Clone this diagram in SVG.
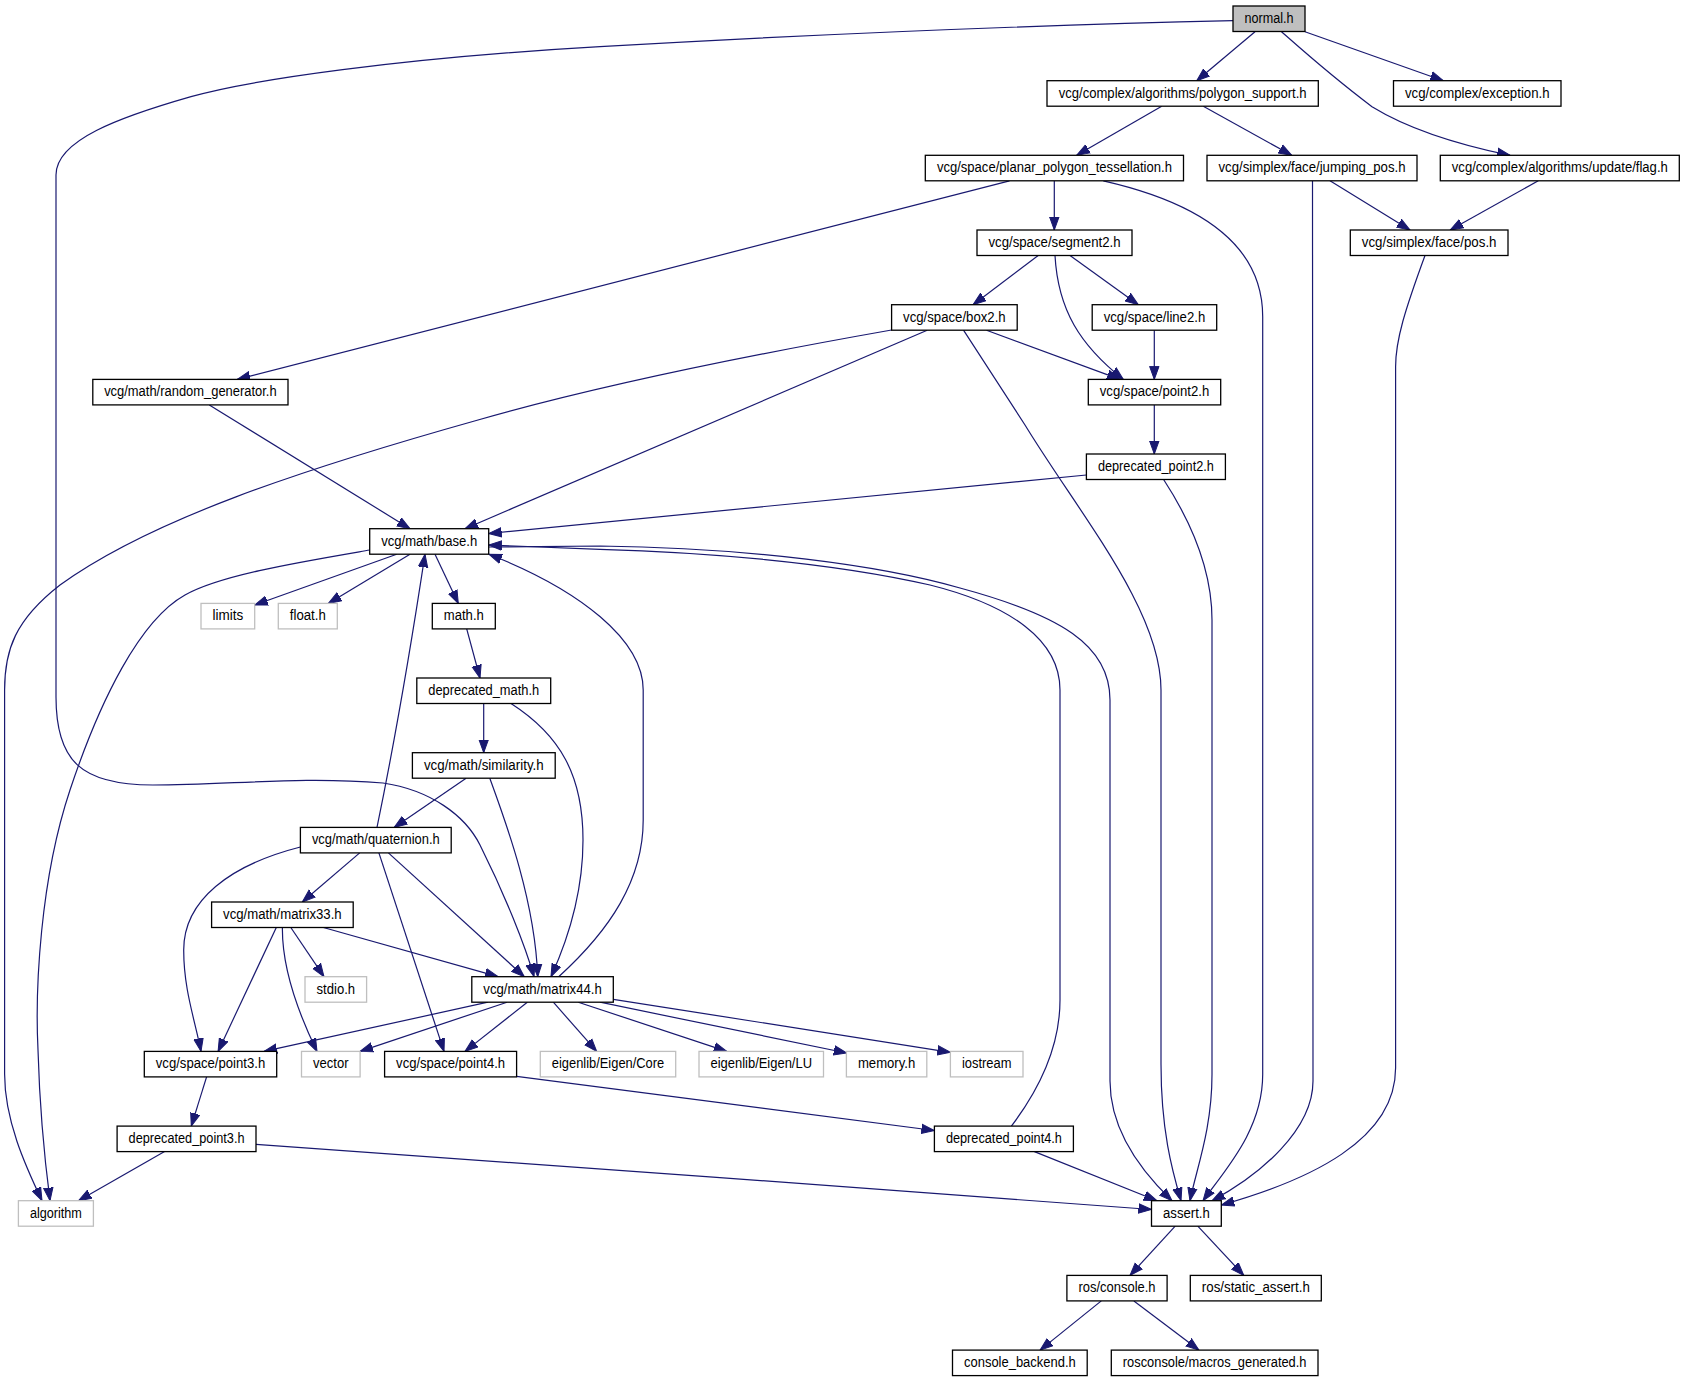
<svg xmlns="http://www.w3.org/2000/svg" width="1685" height="1381" viewBox="0 0 1685 1381">
<style>
.n{fill:#fff;stroke:#000;stroke-width:1.3}
.g{fill:#fff;stroke:#bfbfbf;stroke-width:1.3}
.r{fill:#bfbfbf;stroke:#000;stroke-width:1.3}
text{font-family:"Liberation Sans",Arial,Helvetica,sans-serif;font-size:14px;fill:#000;text-anchor:middle}
.e{fill:none;stroke:#191970;stroke-width:1.2;marker-end:url(#a)}
</style>
<defs>
<marker id="a" markerUnits="userSpaceOnUse" markerWidth="14" markerHeight="11" viewBox="0 0 14 11" refX="13" refY="5.5" orient="auto">
<path d="M0,0.8 L13,5.5 L0,10.2 z" fill="#191970" stroke="#191970" stroke-width="1"/>
</marker>
</defs>
<rect width="1685" height="1381" fill="#fff"/>
<g id="edges">
<path class="e" d="M1233,20.7 C1000,26 750,38 600,46.7 C400,58 250,80 191,96.7 C120,117 56,140 56,175 L56,697 C56,760 80,785 153,785 C230,785 300,776 383,783 C430,790 465,815 480,845 C505,895 525,945 534,976.7"/>
<path class="e" d="M1255,31.7 L1196.7,80.7"/>
<path class="e" d="M1305,31.7 L1443.4,80.7"/>
<path class="e" d="M1281.5,31.7 C1300,48 1330,75 1372,106.7 C1410,130 1460,145 1510,155.3"/>
<path class="e" d="M1161.7,106.2 L1076.7,155.3"/>
<path class="e" d="M1203.3,106.2 L1291.7,155.3"/>
<path class="e" d="M1009.5,180.8 L237.3,379.4"/>
<path class="e" d="M1054.3,180.8 L1054.3,230"/>
<path class="e" d="M1103.3,180.8 C1210,205 1262.7,250 1262.7,316.7 L1262.7,1074.6 C1262.7,1130 1225,1170 1203,1200.7"/>
<path class="e" d="M1330,180.8 L1410,230"/>
<path class="e" d="M1312.5,180.8 L1313,1081 C1313,1130 1260,1175 1212,1200.7"/>
<path class="e" d="M1425,255.5 C1405,310 1395.6,340 1395.6,366.7 L1395.6,1068 C1395.6,1140 1310,1180 1221.3,1205"/>
<path class="e" d="M1538.3,180.8 L1450.2,230"/>
<path class="e" d="M1038.2,255.5 L973.1,304.7"/>
<path class="e" d="M1070,255.5 L1138.3,304.7"/>
<path class="e" d="M1055,255.5 C1058,310 1080,345 1123.3,379.4"/>
<path class="e" d="M1154.3,330.2 L1154.3,379.4"/>
<path class="e" d="M986.5,330.2 L1120,379.4"/>
<path class="e" d="M927.2,330.2 L465,528.7"/>
<path class="e" d="M963.5,330.2 L1025,425 C1080,515 1161,610 1161,690 L1161,1064 C1161,1130 1172,1170 1181,1200.7"/>
<path class="e" d="M891.6,330 C750,355 600,385 478,420 C300,470 150,520 60,585 C15,620 4.6,650 4.6,690 L4.6,1074 C4.6,1120 25,1165 42,1200.7"/>
<path class="e" d="M1154.3,404.9 L1154.3,454"/>
<path class="e" d="M1086.4,475 L488.7,533.5"/>
<path class="e" d="M1163.6,479.5 C1190,520 1212,570 1212,620 L1212,1074.6 C1212,1130 1196,1170 1190,1200.7"/>
<path class="e" d="M209.3,404.9 L410,528.7"/>
<path class="e" d="M396.7,554.2 L254.7,605"/>
<path class="e" d="M410,554.2 L328.3,603.4"/>
<path class="e" d="M435,554.2 L458.3,603.4"/>
<path class="e" d="M369.7,550 C300,562 220,575 185,595 C140,620 100,700 70,790 C40,880 35,990 38,1050 C40,1120 46,1170 50,1200.7"/>
<path class="e" d="M488.7,547 L600,546 C750,548 880,565 960,588 C1060,615 1110,645 1110,700 L1110,1081 C1110,1130 1140,1170 1172,1200.7"/>
<path class="e" d="M466.7,628.9 L480,678"/>
<path class="e" d="M483.7,703.5 L483.7,752.7"/>
<path class="e" d="M511,703.5 C560,735 583,775 583,840 C583,890 570,935 551,976.7"/>
<path class="e" d="M466.1,778.2 L394.2,827.4"/>
<path class="e" d="M489.8,778.2 C505,820 535,900 537.7,976.7"/>
<path class="e" d="M377,827.4 C395,740 415,620 425,554.2"/>
<path class="e" d="M359.7,852.9 L302.3,902"/>
<path class="e" d="M300.4,847 C230,865 183.7,900 183.7,950 C183.7,990 195,1020 201,1051.4"/>
<path class="e" d="M378.9,852.9 L444,1051.4"/>
<path class="e" d="M388.4,852.9 L524.3,976.7"/>
<path class="e" d="M276.3,927.5 L218.1,1051.4"/>
<path class="e" d="M282.4,927.5 C282,960 292,1000 317,1051.4"/>
<path class="e" d="M290.8,927.5 L324,976.7"/>
<path class="e" d="M323.4,927.5 L498,976.7"/>
<path class="e" d="M558.7,976.7 C610,930 643.2,880 643.2,820 L643.2,690 C643.2,640 580,590 489,554.2"/>
<path class="e" d="M487.9,1002.2 L264,1051.4"/>
<path class="e" d="M507,1002.2 L360.1,1051.4"/>
<path class="e" d="M527.3,1002.2 L465,1051.4"/>
<path class="e" d="M553.3,1002.2 L596.7,1051.4"/>
<path class="e" d="M578.3,1002.2 L726.7,1051.4"/>
<path class="e" d="M600,1002.2 L846.7,1053"/>
<path class="e" d="M613.3,999.3 L950.4,1052.3"/>
<path class="e" d="M206.6,1076.9 L191.3,1126.1"/>
<path class="e" d="M516.6,1076.4 L934.4,1130.5"/>
<path class="e" d="M164.6,1151.6 L78.5,1200.7"/>
<path class="e" d="M256,1144.3 C500,1162 900,1190 1151.5,1209.5"/>
<path class="e" d="M1011.4,1126.1 C1035,1095 1060,1050 1060,1000 L1060,690 C1060,640 1010,605 930,585 C830,562 700,552 600,549.3 L488.7,545"/>
<path class="e" d="M1034.4,1151.6 L1157,1200.7"/>
<path class="e" d="M1175.2,1226.2 L1130,1275.4"/>
<path class="e" d="M1197.8,1226.2 L1243.8,1275.4"/>
<path class="e" d="M1101.3,1300.9 L1040.1,1350.1"/>
<path class="e" d="M1133.9,1300.9 L1198.9,1350.1"/>
</g>
<g id="node-normal"><rect class="r" x="1233" y="6" width="72" height="25.5"/><text x="1269" y="22.8" textLength="49" lengthAdjust="spacingAndGlyphs">normal.h</text></g>
<g id="node-polygon-support"><rect class="n" x="1047" y="80.7" width="271.3" height="25.5"/><text x="1182.65" y="97.5" textLength="248" lengthAdjust="spacingAndGlyphs">vcg/complex/algorithms/polygon_support.h</text></g>
<g id="node-exception"><rect class="n" x="1393.5" y="80.7" width="167.5" height="25.5"/><text x="1477.25" y="97.5" textLength="144.5" lengthAdjust="spacingAndGlyphs">vcg/complex/exception.h</text></g>
<g id="node-planar"><rect class="n" x="925.3" y="155.3" width="258.2" height="25.5"/><text x="1054.4" y="172.1" textLength="235" lengthAdjust="spacingAndGlyphs">vcg/space/planar_polygon_tessellation.h</text></g>
<g id="node-jumping-pos"><rect class="n" x="1207" y="155.3" width="210" height="25.5"/><text x="1312" y="172.1" textLength="187" lengthAdjust="spacingAndGlyphs">vcg/simplex/face/jumping_pos.h</text></g>
<g id="node-flag"><rect class="n" x="1440.3" y="155.3" width="239" height="25.5"/><text x="1559.8" y="172.1" textLength="216" lengthAdjust="spacingAndGlyphs">vcg/complex/algorithms/update/flag.h</text></g>
<g id="node-segment2"><rect class="n" x="977" y="230" width="155" height="25.5"/><text x="1054.5" y="246.8" textLength="132" lengthAdjust="spacingAndGlyphs">vcg/space/segment2.h</text></g>
<g id="node-pos"><rect class="n" x="1350.3" y="230" width="157.7" height="25.5"/><text x="1429.15" y="246.8" textLength="134.7" lengthAdjust="spacingAndGlyphs">vcg/simplex/face/pos.h</text></g>
<g id="node-box2"><rect class="n" x="891.6" y="304.7" width="125.6" height="25.5"/><text x="954.4" y="321.5" textLength="102.6" lengthAdjust="spacingAndGlyphs">vcg/space/box2.h</text></g>
<g id="node-line2"><rect class="n" x="1092.2" y="304.7" width="124.5" height="25.5"/><text x="1154.45" y="321.5" textLength="101.5" lengthAdjust="spacingAndGlyphs">vcg/space/line2.h</text></g>
<g id="node-random-generator"><rect class="n" x="92.8" y="379.4" width="195.2" height="25.5"/><text x="190.4" y="396.2" textLength="172.5" lengthAdjust="spacingAndGlyphs">vcg/math/random_generator.h</text></g>
<g id="node-point2"><rect class="n" x="1088.3" y="379.4" width="132.4" height="25.5"/><text x="1154.5" y="396.2" textLength="109.4" lengthAdjust="spacingAndGlyphs">vcg/space/point2.h</text></g>
<g id="node-deprecated-point2"><rect class="n" x="1086.4" y="454" width="139" height="25.5"/><text x="1155.9" y="470.8" textLength="116" lengthAdjust="spacingAndGlyphs">deprecated_point2.h</text></g>
<g id="node-base"><rect class="n" x="369.7" y="528.7" width="119" height="25.5"/><text x="429.2" y="545.5" textLength="96" lengthAdjust="spacingAndGlyphs">vcg/math/base.h</text></g>
<g id="node-limits"><rect class="g" x="201" y="603.4" width="53.7" height="25.5"/><text x="227.85" y="620.2" textLength="30.7" lengthAdjust="spacingAndGlyphs">limits</text></g>
<g id="node-float"><rect class="g" x="278.3" y="603.4" width="59" height="25.5"/><text x="307.8" y="620.2" textLength="36" lengthAdjust="spacingAndGlyphs">float.h</text></g>
<g id="node-math"><rect class="n" x="432.3" y="603.4" width="63" height="25.5"/><text x="463.8" y="620.2" textLength="40" lengthAdjust="spacingAndGlyphs">math.h</text></g>
<g id="node-deprecated-math"><rect class="n" x="416.8" y="678" width="133.9" height="25.5"/><text x="483.75" y="694.8" textLength="110.9" lengthAdjust="spacingAndGlyphs">deprecated_math.h</text></g>
<g id="node-similarity"><rect class="n" x="412.4" y="752.7" width="142.8" height="25.5"/><text x="483.8" y="769.5" textLength="119.8" lengthAdjust="spacingAndGlyphs">vcg/math/similarity.h</text></g>
<g id="node-quaternion"><rect class="n" x="300.4" y="827.4" width="150.8" height="25.5"/><text x="375.8" y="844.2" textLength="127.8" lengthAdjust="spacingAndGlyphs">vcg/math/quaternion.h</text></g>
<g id="node-matrix33"><rect class="n" x="211.6" y="902" width="141.6" height="25.5"/><text x="282.4" y="918.8" textLength="118.6" lengthAdjust="spacingAndGlyphs">vcg/math/matrix33.h</text></g>
<g id="node-stdio"><rect class="g" x="305" y="976.7" width="61.6" height="25.5"/><text x="335.8" y="993.5" textLength="38.6" lengthAdjust="spacingAndGlyphs">stdio.h</text></g>
<g id="node-matrix44"><rect class="n" x="471.8" y="976.7" width="141.5" height="25.5"/><text x="542.55" y="993.5" textLength="118.5" lengthAdjust="spacingAndGlyphs">vcg/math/matrix44.h</text></g>
<g id="node-point3"><rect class="n" x="144.3" y="1051.4" width="132.4" height="25.5"/><text x="210.5" y="1068.2" textLength="109.4" lengthAdjust="spacingAndGlyphs">vcg/space/point3.h</text></g>
<g id="node-vector"><rect class="g" x="301.5" y="1051.4" width="58.6" height="25.5"/><text x="330.8" y="1068.2" textLength="35.6" lengthAdjust="spacingAndGlyphs">vector</text></g>
<g id="node-point4"><rect class="n" x="384.6" y="1051.4" width="132" height="25.5"/><text x="450.6" y="1068.2" textLength="109" lengthAdjust="spacingAndGlyphs">vcg/space/point4.h</text></g>
<g id="node-eigen-core"><rect class="g" x="540.3" y="1051.4" width="135.4" height="25.5"/><text x="608" y="1068.2" textLength="112.4" lengthAdjust="spacingAndGlyphs">eigenlib/Eigen/Core</text></g>
<g id="node-eigen-lu"><rect class="g" x="699" y="1051.4" width="124.5" height="25.5"/><text x="761.25" y="1068.2" textLength="101.5" lengthAdjust="spacingAndGlyphs">eigenlib/Eigen/LU</text></g>
<g id="node-memory"><rect class="g" x="846.4" y="1051.4" width="80.4" height="25.5"/><text x="886.6" y="1068.2" textLength="57.4" lengthAdjust="spacingAndGlyphs">memory.h</text></g>
<g id="node-iostream"><rect class="g" x="950.4" y="1051.4" width="72.6" height="25.5"/><text x="986.7" y="1068.2" textLength="49.6" lengthAdjust="spacingAndGlyphs">iostream</text></g>
<g id="node-deprecated-point3"><rect class="n" x="117.1" y="1126.1" width="138.9" height="25.5"/><text x="186.55" y="1142.9" textLength="115.9" lengthAdjust="spacingAndGlyphs">deprecated_point3.h</text></g>
<g id="node-deprecated-point4"><rect class="n" x="934.4" y="1126.1" width="139" height="25.5"/><text x="1003.9" y="1142.9" textLength="116" lengthAdjust="spacingAndGlyphs">deprecated_point4.h</text></g>
<g id="node-algorithm"><rect class="g" x="18.4" y="1200.7" width="75" height="25.5"/><text x="55.9" y="1217.5" textLength="52" lengthAdjust="spacingAndGlyphs">algorithm</text></g>
<g id="node-assert"><rect class="n" x="1151.5" y="1200.7" width="69.8" height="25.5"/><text x="1186.4" y="1217.5" textLength="46.8" lengthAdjust="spacingAndGlyphs">assert.h</text></g>
<g id="node-ros-console"><rect class="n" x="1066.9" y="1275.4" width="100.2" height="25.5"/><text x="1117" y="1292.2" textLength="77.2" lengthAdjust="spacingAndGlyphs">ros/console.h</text></g>
<g id="node-static-assert"><rect class="n" x="1190.3" y="1275.4" width="131" height="25.5"/><text x="1255.8" y="1292.2" textLength="108" lengthAdjust="spacingAndGlyphs">ros/static_assert.h</text></g>
<g id="node-console-backend"><rect class="n" x="952.5" y="1350.1" width="134.7" height="25.5"/><text x="1019.85" y="1366.9" textLength="111.7" lengthAdjust="spacingAndGlyphs">console_backend.h</text></g>
<g id="node-macros-generated"><rect class="n" x="1111.3" y="1350.1" width="206.7" height="25.5"/><text x="1214.65" y="1366.9" textLength="183.7" lengthAdjust="spacingAndGlyphs">rosconsole/macros_generated.h</text></g>
</svg>
